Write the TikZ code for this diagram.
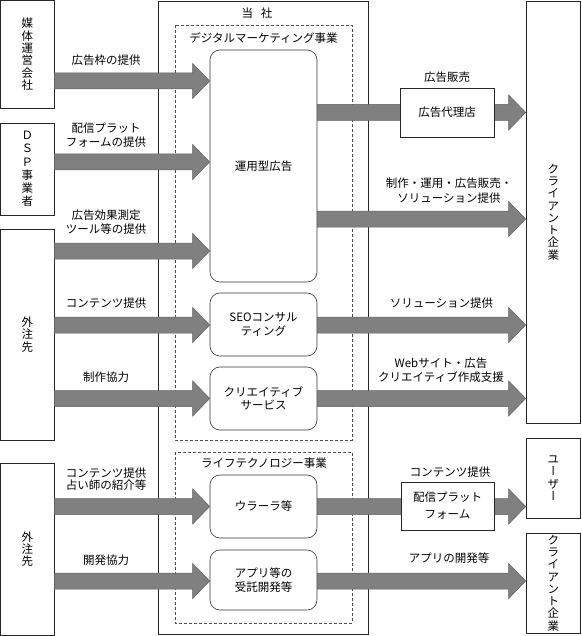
\documentclass[tikz,border=0pt]{standalone}
\usepackage{fontspec}
\newfontfamily\jpfont{Noto Sans CJK JP}
\newfontfamily\jpvert[RawFeature=+vert]{Noto Sans CJK JP}
\usetikzlibrary{calc}

% vertical prolonged sound mark for tategaki
\newcommand{\tatebou}{{\jpvert ー}}
% grey block arrow between two points on the same height
\newcommand{\fatarrow}[2]{%
  \filldraw[flowarrow] let \p1=(#1), \p2=(#2) in
    (\x1,\y1+8pt) -- (\x2-17pt,\y1+8pt) -- (\x2-17pt,\y1+17.5pt) -- (\x2,\y1)
    -- (\x2-17pt,\y1-17.5pt) -- (\x2-17pt,\y1-8pt) -- (\x1,\y1-8pt) -- cycle;}

\begin{document}
\begin{tikzpicture}[x=1pt,y=-1pt,
  font=\jpfont\fontsize{11.5}{14}\selectfont,
  box/.style={draw=black!85,line width=0.6pt,align=center,inner sep=0pt},
  tate/.style={font=\jpfont\fontsize{11.5}{12.3}\selectfont},
  roundbox/.style={draw=black!80,line width=0.6pt,rounded corners=10pt,fill=white,
    minimum width=107pt,align=center},
  section/.style={draw=black!70,line width=0.5pt,dash pattern=on 3pt off 2pt},
  flowarrow/.style={fill=black!50,draw=black!62,line width=0.5pt},
  lbl/.style={align=center,inner sep=0pt}]

\useasboundingbox (0,0) rectangle (581,636);

% company frame and the two segments
\draw[box] (158,1) rectangle (368,634);
\node[lbl] (tosha) at (257,13) {当\hspace{8pt}社};
\draw[section] (175,25) rectangle (352,440);
\node[lbl] (digital) at (263.5,38) {デジタルマーケティング事業};
\draw[section] (175,452) rectangle (352,623);
\node[lbl] (life) at (264,463) {ライフテクノロジー事業};

% partners on the left
\node[box,tate,minimum width=53.5pt,minimum height=107.5pt] (media) at (27.25,54.25) {媒\\体\\運\\営\\会\\社};
\node[box,tate,minimum width=53.5pt,minimum height=92pt,font=\jpfont\fontsize{11.5}{13.2}\selectfont] (dsp) at (27.25,169) {Ｄ\\Ｓ\\Ｐ\\事\\業\\者};
\node[box,tate,minimum width=53.5pt,minimum height=211pt] (gaichu) at (27.25,334.5) {外\\注\\先};
\node[box,tate,minimum width=53.5pt,minimum height=172pt] (gaichub) at (27.25,549) {外\\注\\先};

% customers on the right
\node[box,tate,minimum width=54.5pt,minimum height=422pt] (client) at (553.25,212) {ク\\ラ\\イ\\ア\\ン\\ト\\企\\業};
\node[box,tate,minimum width=54.5pt,minimum height=80pt] (user) at (553.25,478) {ユ\\ \tatebou\\ザ\\ \tatebou};
\node[box,tate,minimum width=54.5pt,minimum height=100pt] (clientb) at (553.25,583) {ク\\ラ\\イ\\ア\\ン\\ト\\企\\業};

% services
\node[roundbox,minimum height=232pt] (unyo) at (263.5,166) {運用型広告};
\node[roundbox,minimum height=63pt] (seo) at (263.5,324.5) {SEOコンサル\\ティング};
\node[roundbox,minimum height=63pt,font=\jpfont\fontsize{11.5}{12.5}\selectfont] (creative) at (263.5,398.5) {クリエイティブ\\サービス};
\node[roundbox,minimum height=63pt] (urara) at (263.5,506.5) {ウラーラ等};
\node[roundbox,minimum height=60pt] (app) at (263.5,580) {アプリ等の\\受託開発等};

% arrow heights
\coordinate (a1) at (0,81);
\coordinate (a2) at (0,162);
\coordinate (a3) at (0,251);
\coordinate (a4) at (0,325);
\coordinate (a5) at (0,398.5);
\coordinate (a6) at (0,506.5);
\coordinate (a7) at (0,581);
\coordinate (b1) at (0,112.5);
\coordinate (b2) at (0,219);

\fatarrow{media.east |- a1}{unyo.west |- a1}
\fatarrow{dsp.east |- a2}{unyo.west |- a2}
\fatarrow{gaichu.east |- a3}{unyo.west |- a3}
\fatarrow{gaichu.east |- a4}{seo.west |- a4}
\fatarrow{gaichu.east |- a5}{creative.west |- a5}
\fatarrow{gaichub.east |- a6}{urara.west |- a6}
\fatarrow{gaichub.east |- a7}{app.west |- a7}

\fatarrow{unyo.east |- b1}{client.west |- b1}
\fatarrow{unyo.east |- b2}{client.west |- b2}
\fatarrow{seo.east |- a4}{client.west |- a4}
\fatarrow{creative.east |- a5}{client.west |- a5}
\fatarrow{urara.east |- a6}{user.west |- a6}
\fatarrow{app.east |- a7}{clientb.west |- a7}

% intermediaries lie on top of their arrows
\node[box,fill=white,minimum width=94pt,minimum height=49pt] (dairi) at (447,112.5) {広告代理店};
\node[box,fill=white,minimum width=93pt,minimum height=48pt,font=\jpfont\fontsize{11.5}{17}\selectfont] (haishin) at (447.5,506) {配信プラット\\フォーム};

% labels
\node[lbl] (l1) at (106,60) {広告枠の提供};
\node[lbl] (l2) at (106,135.5) {配信プラット\\フォームの提供};
\node[lbl] (l3) at (106,222.5) {広告効果測定\\ツール等の提供};
\node[lbl] (l4) at (106,303) {コンテンツ提供};
\node[lbl] (l5) at (106,377) {制作協力};
\node[lbl,font=\jpfont\fontsize{11.5}{12.5}\selectfont] (l6) at (106,479) {コンテンツ提供\\占い師の紹介等};
\node[lbl] (l7) at (106,560) {開発協力};

\node[lbl] (r1) at (447,77) {広告販売};
\node[lbl,font=\jpfont\fontsize{11.5}{15}\selectfont] (r2) at (449,190.5) {制作・運用・広告販売・\\ソリューション提供};
\node[lbl] (r3) at (441.5,303) {ソリューション提供};
\node[lbl] (r4) at (441,370) {Webサイト・広告\\クリエイティブ作成支援};
\node[lbl] (r5) at (450,472) {コンテンツ提供};
\node[lbl] (r6) at (449,558) {アプリの開発等};

\end{tikzpicture}
\end{document}
